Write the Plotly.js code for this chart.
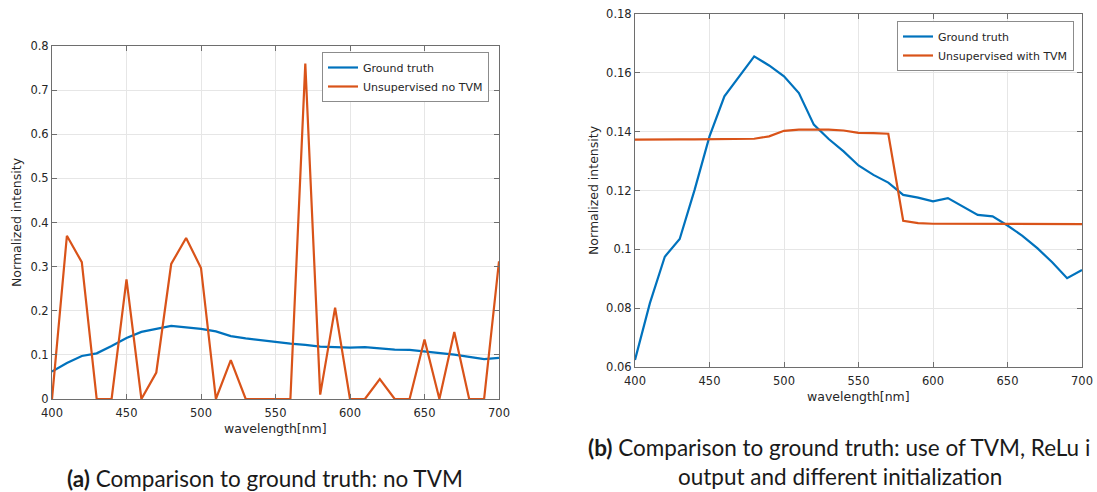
<!DOCTYPE html>
<html>
<head>
<meta charset="utf-8">
<script src="https://cdn.plot.ly/plotly-3.0.1.min.js"></script>
<style>html,body{margin:0;padding:0;background:#fff;}#chart{width:1097px;height:492px;}</style>
</head>
<body>
<div id="chart"></div>
<script>
const wavelength = [400,410,420,430,440,450,460,470,480,490,500,510,520,530,540,550,560,570,580,590,600,610,620,630,640,650,660,670,680,690,700];
const groundTruth = [0.0624,0.0817,0.0975,0.1035,0.1202,0.1384,0.1520,0.1590,0.1656,0.1625,0.1588,0.1531,0.1424,0.1375,0.1333,0.1285,0.1253,0.1227,0.1185,0.1176,0.1163,0.1174,0.1146,0.1117,0.1112,0.1081,0.1046,0.1004,0.0956,0.0902,0.0930];
const unsupNoTVM = [0,0.370,0.310,0,0,0.271,0,0.060,0.306,0.365,0.297,0,0.088,0,0,0,0,0.760,0.010,0.207,0,0,0.045,0,0,0.135,0,0.152,0,0,0.312];
const unsupWithTVM = [0.1373,0.1374,0.1373,0.1374,0.1374,0.1374,0.1374,0.1374,0.1376,0.1384,0.1403,0.1407,0.1407,0.1407,0.1404,0.1396,0.1395,0.1393,0.1097,0.1089,0.1087,0.1087,0.1087,0.1087,0.1087,0.1087,0.1087,0.1087,0.1086,0.1087,0.1086];
const xTicks = [400,450,500,550,600,650,700];
const yTicksA = [0,0.1,0.2,0.3,0.4,0.5,0.6,0.7,0.8];
const yTicksB = [0.06,0.08,0.1,0.12,0.14,0.16,0.18];
const yTickTextA = ['0','0.1','0.2','0.3','0.4','0.5','0.6','0.7','0.8'];
const yTickTextB = ['0.06','0.08','0.1','0.12','0.14','0.16','0.18'];

const BLUE = '#0072BD', ORANGE = '#D95319';
const W = 1097, H = 492;
const px = v => v / W, py = v => 1 - v / H;

const traces = [
  {x: wavelength, y: groundTruth, xaxis:'x', yaxis:'y', mode:'lines', name:'Ground truth', line:{color:BLUE, width:2.2}, legend:'legend'},
  {x: wavelength, y: unsupNoTVM, xaxis:'x', yaxis:'y', mode:'lines', name:'Unsupervised no TVM', line:{color:ORANGE, width:2.2}, legend:'legend'},
  {x: wavelength, y: groundTruth, xaxis:'x2', yaxis:'y2', mode:'lines', name:'Ground truth', line:{color:BLUE, width:2.2}, legend:'legend2'},
  {x: wavelength, y: unsupWithTVM, xaxis:'x2', yaxis:'y2', mode:'lines', name:'Unsupervised with TVM', line:{color:ORANGE, width:2.2}, legend:'legend2'}
];

const tickFont = {family:'DejaVu Sans, sans-serif', size:11.5, color:'#262626'};
const axBase = {
  showline:true, linecolor:'#6e6e6e', linewidth:1, mirror:'ticks',
  ticks:'inside', ticklen:5, tickcolor:'#6e6e6e', tickwidth:1,
  showgrid:true, gridcolor:'#e6e6e6', gridwidth:1, zeroline:false,
  tickfont: tickFont, fixedrange:true, automargin:false
};

const legendBase = {
  xref:'paper', yref:'paper', xanchor:'left', yanchor:'top',
  bgcolor:'#ffffff', bordercolor:'#8c8c8c', borderwidth:1,
  font:{family:'DejaVu Sans, sans-serif', size:11, color:'#262626'},
  tracegroupgap:0, itemwidth:30, traceorder:'normal'
};

const labelFont = {family:'DejaVu Sans, sans-serif', size:12.5, color:'#262626'};
const capFont = {family:'Lato, sans-serif', size:22.5, color:'#1a1a1a'};

const layout = {
  width: W, height: H,
  margin:{l:0, r:0, t:0, b:0},
  paper_bgcolor:'#ffffff', plot_bgcolor:'#ffffff',
  showlegend:true,
  xaxis: Object.assign({}, axBase, {domain:[px(52), px(499)], range:[400,700], tickvals:xTicks, anchor:'y', ticklabelstandoff:3}),
  yaxis: Object.assign({}, axBase, {domain:[py(399), py(46)], range:[0,0.8], tickvals:yTicksA, ticktext:yTickTextA, anchor:'x'}),
  xaxis2: Object.assign({}, axBase, {domain:[px(635), px(1082)], range:[400,700], tickvals:xTicks, anchor:'y2', ticklabelstandoff:3}),
  yaxis2: Object.assign({}, axBase, {domain:[py(367), py(14)], range:[0.06,0.18], tickvals:yTicksB, ticktext:yTickTextB, anchor:'x2'}),
  legend: Object.assign({}, legendBase, {x:px(322), y:py(52)}),
  legend2: Object.assign({}, legendBase, {x:px(897), y:py(21)}),
  annotations: [
    {text:'wavelength[nm]', xref:'paper', yref:'paper', x:px(275), y:py(428), xanchor:'center', yanchor:'middle', showarrow:false, font:labelFont},
    {text:'wavelength[nm]', xref:'paper', yref:'paper', x:px(858), y:py(396), xanchor:'center', yanchor:'middle', showarrow:false, font:labelFont},
    {text:'Normalized intensity', xref:'paper', yref:'paper', x:px(17), y:py(222), xanchor:'center', yanchor:'middle', textangle:-90, showarrow:false, font:labelFont},
    {text:'Normalized intensity', xref:'paper', yref:'paper', x:px(593), y:py(190), xanchor:'center', yanchor:'middle', textangle:-90, showarrow:false, font:labelFont},
    {text:'<b>(a)</b> Comparison to ground truth: no TVM', xref:'paper', yref:'paper', x:px(265), y:py(478), xanchor:'center', yanchor:'middle', showarrow:false, font:capFont},
    {text:'<b>(b)</b> Comparison to ground truth: use of TVM, ReLu i', xref:'paper', yref:'paper', x:px(586), y:py(447), xanchor:'left', yanchor:'middle', showarrow:false, font:capFont},
    {text:'output and different initialization', xref:'paper', yref:'paper', x:px(840), y:py(476), xanchor:'center', yanchor:'middle', showarrow:false, font:capFont}
  ]
};

Plotly.newPlot('chart', traces, layout, {staticPlot:true, displayModeBar:false});
</script>
</body>
</html>
